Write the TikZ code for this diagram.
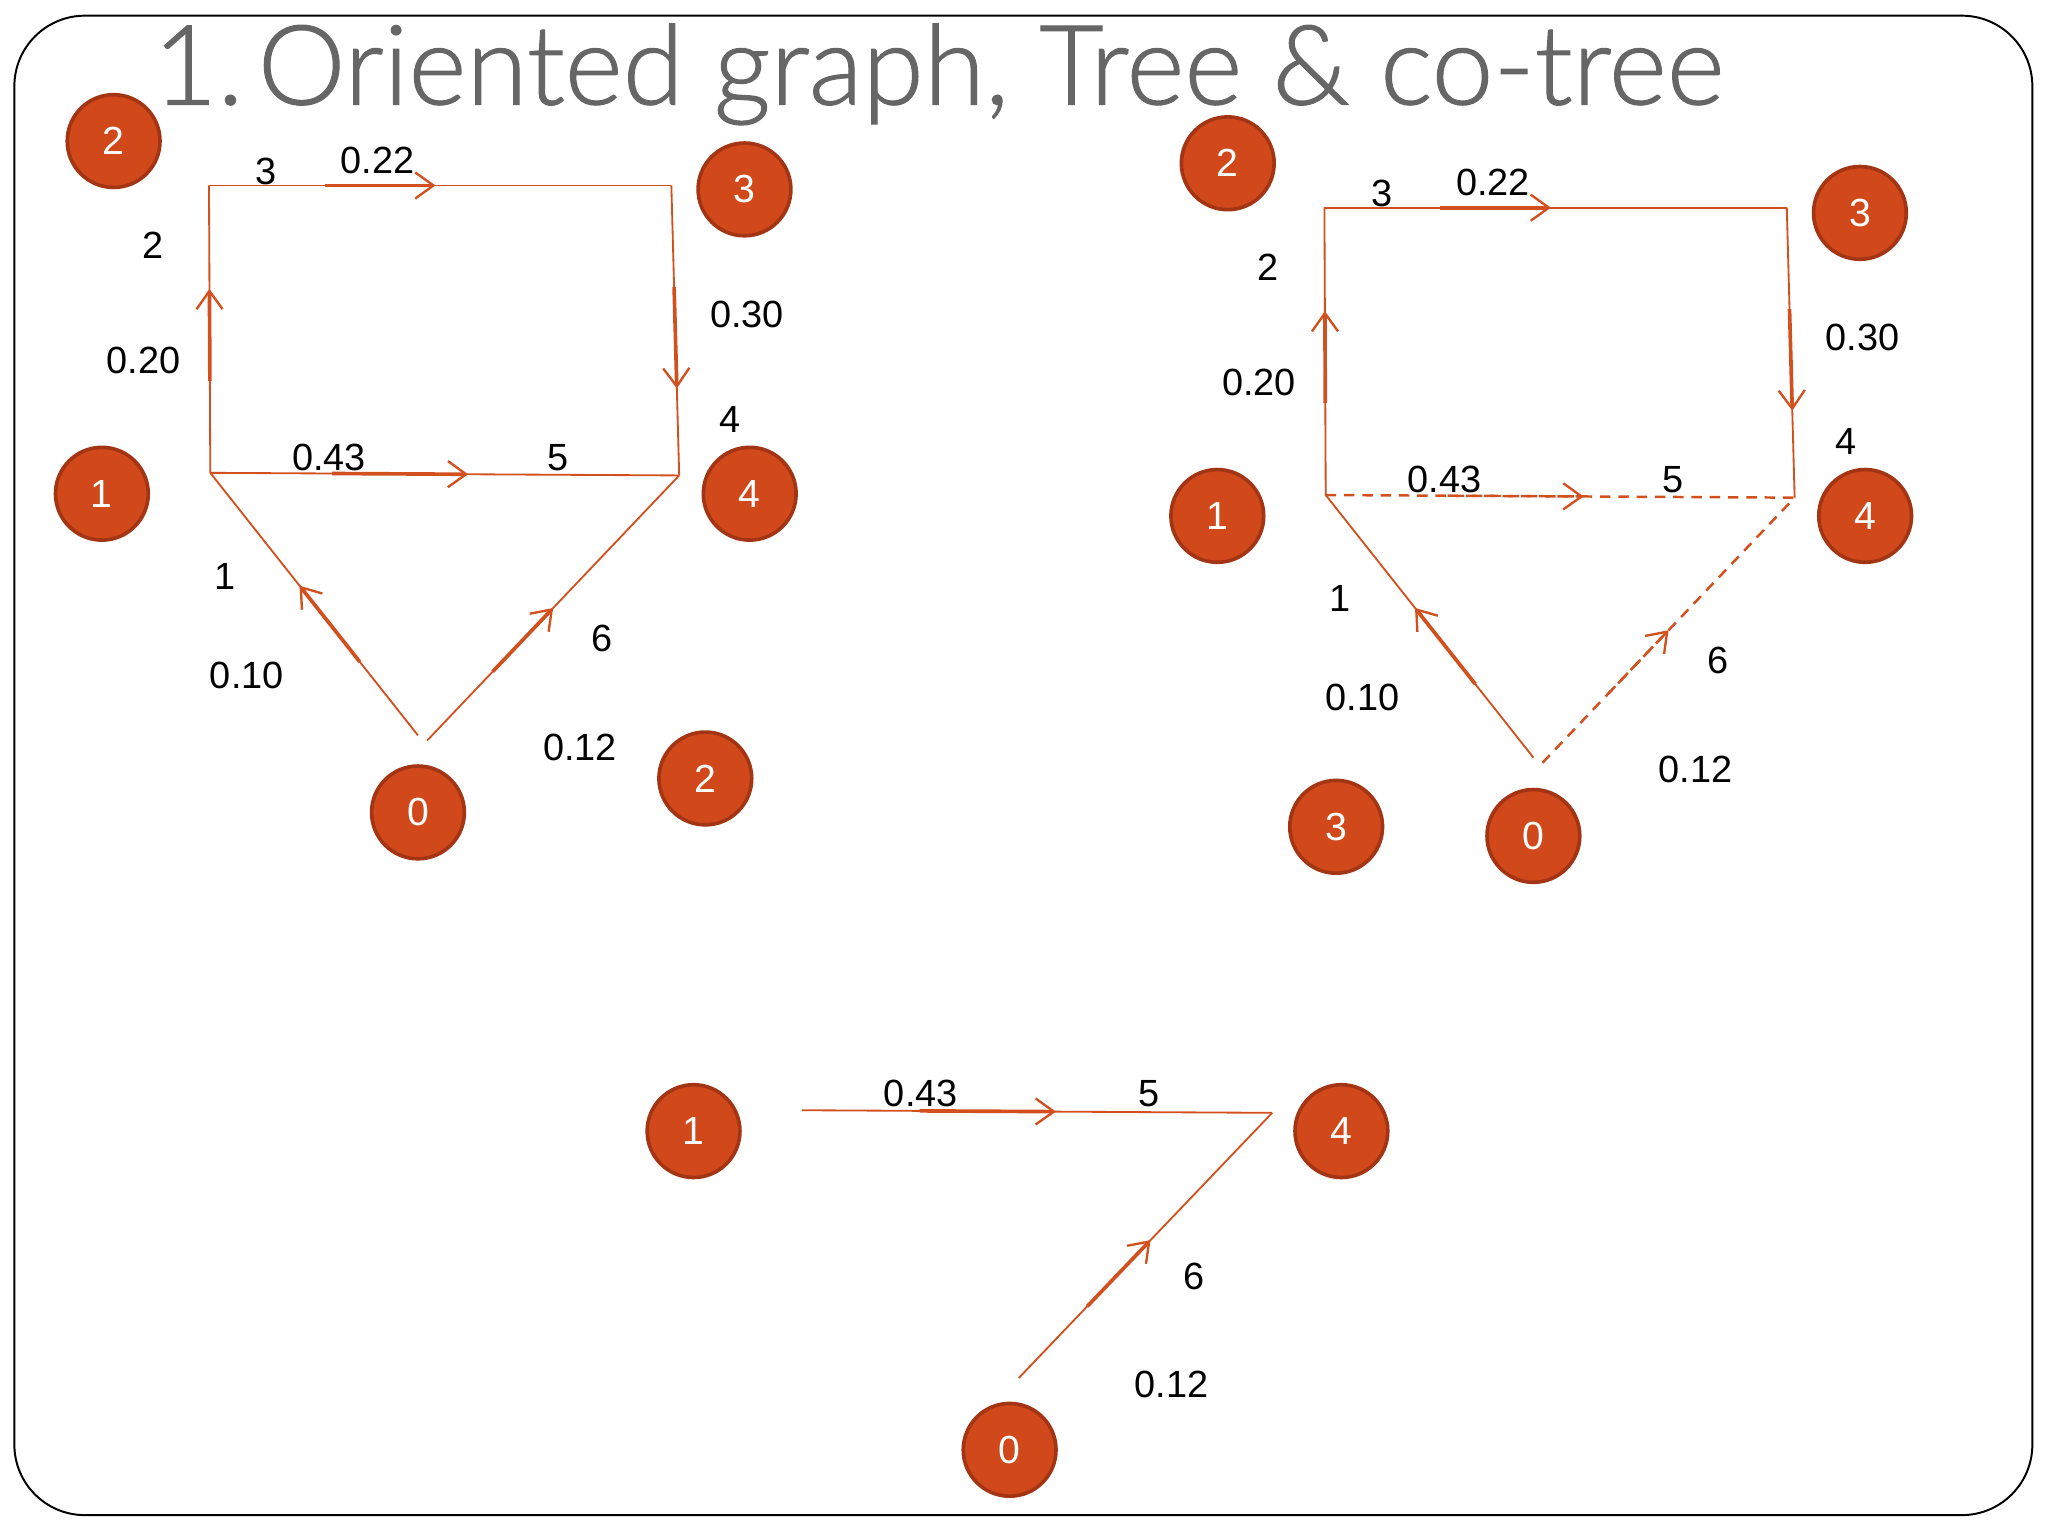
\documentclass[tikz,border=0pt]{standalone}
\usepackage{fontspec}
\setmainfont{Liberation Sans}
\newfontfamily\titlefont{Lato Light}[BoldFont=*,BoldFeatures={FakeBold=1}]
\usetikzlibrary{arrows.meta,calc}
\definecolor{nodefill}{HTML}{D1491A}
\definecolor{nodeborder}{HTML}{A33414}
\definecolor{edgecol}{HTML}{D2501E}
\definecolor{titlegray}{HTML}{666666}
\tikzset{
  vtx/.style={circle,fill=nodefill,draw=nodeborder,line width=2.8pt,minimum size=71pt,inner sep=0pt,text=white,font=\fontsize{30}{34}\selectfont},
  lab/.style={inner sep=0pt,font=\fontsize{29}{34}\selectfont},
  gline/.style={draw=edgecol,line width=1.4pt},
  garrow/.style={draw=edgecol,line width=2.8pt,-{Straight Barb[length=14pt,width=20pt,line width=1.8pt]}},
  gdashed/.style={dash pattern=on 8pt off 6pt,line width=1.9pt},
}
\newcommand\earrow[5][]{%
  \draw[gline,#1] (#2) -- (#3);
  \draw[garrow,#1] ($(#2)!#4!(#3)$) -- ($(#2)!#5!(#3)$);}
\begin{document}
\begin{tikzpicture}[x=1pt,y=-1pt]
\useasboundingbox (0,0) rectangle (1568,1176);
\draw[line width=1.5pt,rounded corners=54pt] (11,12) rectangle (1556,1160);
\node[anchor=base west,inner sep=0pt,text=titlegray,font=\titlefont\bfseries\fontsize{85}{90}\selectfont] (title) at (117,80) {1.\kern11pt Oriented graph, Tree \& co-tree};

% ---------- left graph ----------
\coordinate (LA) at (160,142);
\coordinate (LB) at (514,142);
\coordinate (LC) at (161,362);
\coordinate (LD) at (520,364);
\coordinate (LO1) at (320,563);
\coordinate (LO6) at (327,567);
\earrow{LA}{LB}{0.25}{0.49}
\earrow{LC}{LA}{0.32}{0.64}
\earrow{LB}{LD}{0.35}{0.70}
\earrow{LC}{LD}{0.26}{0.55}
\earrow{LO1}{LC}{0.28}{0.57}
\earrow{LO6}{LD}{0.26}{0.50}
\node[vtx] (L2) at (87,108) {2};
\node[vtx] (L3) at (570,145) {3};
\node[vtx] (L1) at (78,378) {1};
\node[vtx] (L4) at (574,378) {4};
\node[vtx] (L0) at (320,622) {0};
\node[vtx] (Lx) at (540,596) {2};
\node[lab] (la1) at (204,131) {3};
\node[lab] (la2) at (289,123) {0.22};
\node[lab] (la3) at (117,188) {2};
\node[lab] (la4) at (110,276) {0.20};
\node[lab] (la5) at (572,241) {0.30};
\node[lab] (la6) at (559,321) {4};
\node[lab] (la7) at (252,350) {0.43};
\node[lab] (la8) at (427,350) {5};
\node[lab] (la9) at (172,441) {1};
\node[lab] (la10) at (189,517) {0.10};
\node[lab] (la11) at (461,489) {6};
\node[lab] (la12) at (444,572) {0.12};

% ---------- right graph ----------
\coordinate (RA) at (1014,159);
\coordinate (RB) at (1368,159);
\coordinate (RC) at (1015,379);
\coordinate (RD) at (1374,381);
\coordinate (RO1) at (1174,580);
\coordinate (RO6) at (1181,584);
\earrow{RA}{RB}{0.25}{0.49}
\earrow{RC}{RA}{0.32}{0.64}
\earrow{RB}{RD}{0.35}{0.70}
\earrow[gdashed]{RC}{RD}{0.26}{0.55}
\earrow{RO1}{RC}{0.28}{0.57}
\earrow[gdashed]{RO6}{RD}{0.26}{0.50}
\node[vtx] (R2) at (940,125) {2};
\node[vtx] (R3) at (1424,163) {3};
\node[vtx] (R1) at (932,395) {1};
\node[vtx] (R4) at (1428,395) {4};
\node[vtx] (R0) at (1174,640) {0};
\node[vtx] (Rx) at (1023,633) {3};
\node[lab] (ra1) at (1058,148) {3};
\node[lab] (ra2) at (1143,140) {0.22};
\node[lab] (ra3) at (971,205) {2};
\node[lab] (ra4) at (964,293) {0.20};
\node[lab] (ra5) at (1426,258) {0.30};
\node[lab] (ra6) at (1413,338) {4};
\node[lab] (ra7) at (1106,367) {0.43};
\node[lab] (ra8) at (1281,367) {5};
\node[lab] (ra9) at (1026,458) {1};
\node[lab] (ra10) at (1043,534) {0.10};
\node[lab] (ra11) at (1315,506) {6};
\node[lab] (ra12) at (1298,589) {0.12};

% ---------- bottom graph ----------
\coordinate (BC) at (614,850);
\coordinate (BD) at (974,852);
\coordinate (BO6) at (780,1055);
\earrow{BC}{BD}{0.25}{0.54}
\earrow{BO6}{BD}{0.27}{0.52}
\node[vtx] (B1) at (531,866) {1};
\node[vtx] (B4) at (1027,866) {4};
\node[vtx] (B0) at (773,1110) {0};
\node[lab] (ba7) at (705,837) {0.43};
\node[lab] (ba8) at (880,837) {5};
\node[lab] (ba11) at (914,977) {6};
\node[lab] (ba12) at (897,1060) {0.12};
\end{tikzpicture}
\end{document}
